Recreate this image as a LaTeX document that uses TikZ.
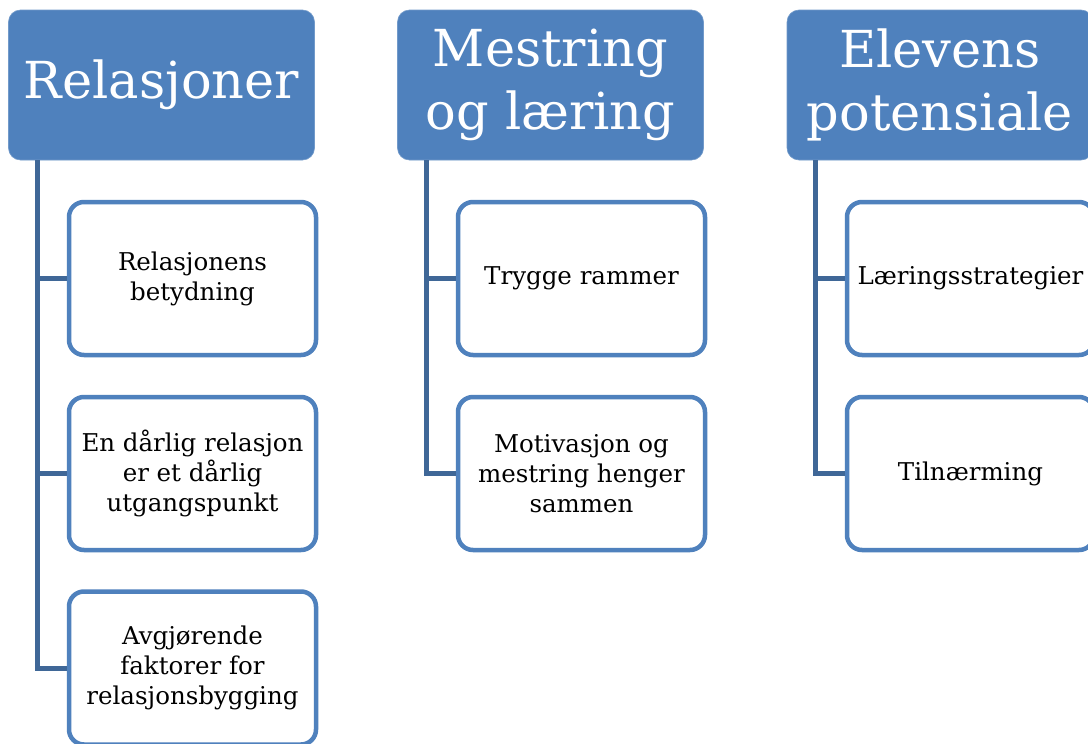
\documentclass[tikz,border=0pt]{standalone}
\usepackage{fontspec}
\setmainfont{DejaVu Serif}
\definecolor{hdr}{HTML}{4F81BD}
\definecolor{conn}{HTML}{3F6797}
\tikzset{
  hdrbox/.style={draw=hdr!80!white, line width=0.6pt, fill=hdr, rounded corners=12pt, minimum width=306pt, minimum height=150pt, text=white, align=center, inner sep=0pt, font=\fontsize{51}{63}\selectfont},
  childbox/.style={draw=hdr, line width=4.5pt, fill=white, rounded corners=15pt, minimum width=247pt, minimum height=153pt, text=black, align=center, inner sep=0pt, font=\fontsize{24.5}{30}\selectfont},
  connline/.style={draw=conn, line width=5pt}
}
\begin{document}
\begin{tikzpicture}[x=1pt,y=-1pt]
\useasboundingbox (0,0) rectangle (1088,744);
\clip (0,0) rectangle (1088,744);
\fill[white] (0,0) rectangle (1088,744);
\coordinate (r1) at (37,160);
\coordinate (r2) at (426,160);
\coordinate (r3) at (815,160);
\node[hdrbox] (h1) at (161.5,85) {Relasjoner};
\node[hdrbox] (h2) at (550.5,85) {Mestring\\og læring};
\node[hdrbox] (h3) at (940,85) {Elevens\\potensiale};
\node[childbox] (c11) at (192.5,278.5) {Relasjonens\\betydning};
\node[childbox] (c12) at (192.5,473.5) {En dårlig relasjon\\er et dårlig\\utgangspunkt};
\node[childbox] (c13) at (192.5,668) {Avgjørende\\faktorer for\\relasjonsbygging};
\node[childbox] (c21) at (581.5,278.5) {Trygge rammer};
\node[childbox] (c22) at (581.5,473.5) {Motivasjon og\\mestring henger\\sammen};
\node[childbox] (c31) at (970.5,278.5) {Læringsstrategier};
\node[childbox] (c32) at (970.5,473.5) {Tilnærming};
\draw[connline] (r1) |- (c11.west);
\draw[connline] (r1) |- (c12.west);
\draw[connline] (r1) |- (c13.west);
\draw[connline] (r2) |- (c21.west);
\draw[connline] (r2) |- (c22.west);
\draw[connline] (r3) |- (c31.west);
\draw[connline] (r3) |- (c32.west);
\end{tikzpicture}
\end{document}
